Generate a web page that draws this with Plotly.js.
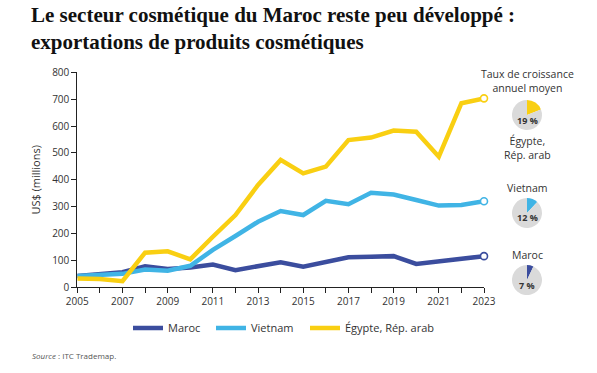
<!DOCTYPE html>
<html>
<head>
<meta charset="utf-8">
<script src="https://cdn.plot.ly/plotly-3.0.1.min.js"></script>
<style>
  html, body { margin: 0; padding: 0; background: #fff; }
  #chart { width: 597px; height: 373px; }
</style>
</head>
<body>
<div id="chart"></div>
<script>
// Exportations de produits cosmétiques, millions de US$
const years = [2005, 2006, 2007, 2008, 2009, 2010, 2011, 2012, 2013, 2014,
               2015, 2016, 2017, 2018, 2019, 2020, 2021, 2022, 2023];
const maroc   = [42, 50, 56, 78, 68, 74, 85, 64, 80, 93,
                 77, 93, 112, 114, 116, 87, 97, 105, 116];
const vietnam = [42, 45, 50, 66, 62, 80, 139, 191, 244, 284,
                 269, 322, 309, 352, 345, 325, 304, 306, 320];
const egypte  = [33, 31, 23, 129, 134, 104, 188, 269, 381, 474,
                 424, 449, 548, 557, 583, 579, 486, 685, 703];

const seriesNames = ['Maroc', 'Vietnam', 'Égypte, Rép. arab'];
const seriesColors = ['#3b4d9e', '#40b4e5', '#f9cf12'];
const seriesValues = [maroc, vietnam, egypte];

// Taux de croissance annuel moyen (%)
const growthRates = [7, 12, 19];
const growthLabels = ['7 %', '12 %', '19 %'];

const xTickLabels = years.map(y => (y % 2 === 1 ? String(y) : ''));
const yTicks = [0, 100, 200, 300, 400, 500, 600, 700, 800];

const W = 597, H = 373;
const px = v => v / W;
const py = v => 1 - v / H;

const sans = 'Open Sans, Noto Sans, sans-serif';
const txt = '#333333';

// one legend per series so each entry sits where it should
const legendIds = ['legend', 'legend2', 'legend3'];
const legendLeft = [128, 211, 305];

const traces = [];
seriesValues.forEach((vals, i) => {
  traces.push({
    type: 'scatter', mode: 'lines', x: years, y: vals,
    name: seriesNames[i], legend: legendIds[i],
    line: { color: seriesColors[i], width: 4.5 },
    hoverinfo: 'x+y+name'
  });
});
// open circles at the last year
seriesValues.forEach((vals, i) => {
  traces.push({
    type: 'scatter', mode: 'markers',
    x: [years[years.length - 1]], y: [vals[vals.length - 1]],
    showlegend: false, cliponaxis: false,
    marker: { size: 7, color: '#ffffff', line: { color: seriesColors[i], width: 1.6 } }
  });
});

// small pies with the growth rates (centre y in pixels)
const pieCentres = [280, 213, 115];
const pieX = 527, pieR = 15;
growthRates.forEach((g, i) => {
  const cy = pieCentres[i];
  traces.push({
    type: 'pie', values: [g, 100 - g], sort: false,
    direction: 'clockwise', rotation: 0,
    marker: { colors: [seriesColors[i], '#dadada'], line: { width: 0 } },
    textinfo: 'none', hoverinfo: 'none', showlegend: false,
    domain: { x: [px(pieX - pieR), px(pieX + pieR)], y: [py(cy + pieR), py(cy - pieR)] }
  });
});

const annotations = [
  { text: 'Taux de croissance<br>annuel moyen', x: px(527), y: py(65), yanchor: 'top' },
  { text: 'Égypte,<br>Rép. arab', x: px(527), y: py(132), yanchor: 'top' },
  { text: 'Vietnam', x: px(527), y: py(187.5), yanchor: 'middle' },
  { text: 'Maroc', x: px(527), y: py(255), yanchor: 'middle' }
].map(a => Object.assign({
  xref: 'paper', yref: 'paper', xanchor: 'center', showarrow: false,
  font: { family: sans, size: 10.5, color: txt }
}, a));

growthLabels.forEach((lab, i) => {
  annotations.push({
    text: '<b>' + lab + '</b>', xref: 'paper', yref: 'paper',
    x: px(pieX), y: py(pieCentres[i] + 5), xanchor: 'center', yanchor: 'middle',
    showarrow: false, font: { family: sans, size: 9, color: txt }
  });
});

// chart heading
annotations.push({
  text: '<b>Le secteur cosmétique du Maroc reste peu développé :<br>exportations de produits cosmétiques</b>',
  xref: 'paper', yref: 'paper', x: px(29), y: py(1), xanchor: 'left', yanchor: 'top',
  align: 'left', showarrow: false,
  font: { family: 'Liberation Serif, Times New Roman, serif', size: 21, color: '#111111' }
});

annotations.push({
  text: '<i>Source</i> : ITC Trademap.', xref: 'paper', yref: 'paper',
  x: px(30), y: py(355), xanchor: 'left', yanchor: 'middle', showarrow: false,
  font: { family: sans, size: 8, color: '#555555' }
});

const legendBase = {
  orientation: 'h', y: py(328), xanchor: 'left', yanchor: 'middle',
  font: { family: sans, size: 11, color: txt },
  itemwidth: 30, bgcolor: 'rgba(0,0,0,0)'
};

const layout = {
  width: W, height: H,
  margin: { l: 0, r: 0, t: 0, b: 0 },
  paper_bgcolor: '#ffffff', plot_bgcolor: '#ffffff',
  xaxis: {
    domain: [px(77.3), px(484)],
    range: [2005, 2023],
    tickvals: years, ticktext: xTickLabels,
    ticks: 'outside', ticklen: 5, tickwidth: 1, tickcolor: '#222',
    showline: true, linecolor: '#222', linewidth: 1,
    showgrid: false, zeroline: false,
    tickfont: { family: sans, size: 10, color: txt },
    fixedrange: true
  },
  yaxis: {
    domain: [py(287.3), py(72.3)],
    range: [0, 800],
    tickvals: yTicks,
    ticks: 'outside', ticklen: 5, tickwidth: 1, tickcolor: '#222',
    showline: true, linecolor: '#222', linewidth: 1,
    showgrid: false, zeroline: false,
    tickfont: { family: sans, size: 10, color: txt },
    title: { text: 'US$ (millions)', font: { family: sans, size: 11, color: txt }, standoff: 9 },
    fixedrange: true
  },
  showlegend: true,
  legend: Object.assign({}, legendBase, { x: px(legendLeft[0]) }),
  legend2: Object.assign({}, legendBase, { x: px(legendLeft[1]) }),
  legend3: Object.assign({}, legendBase, { x: px(legendLeft[2]) }),
  annotations: annotations
};

Plotly.newPlot('chart', traces, layout, { displayModeBar: false, staticPlot: true });
</script>
</body>
</html>
